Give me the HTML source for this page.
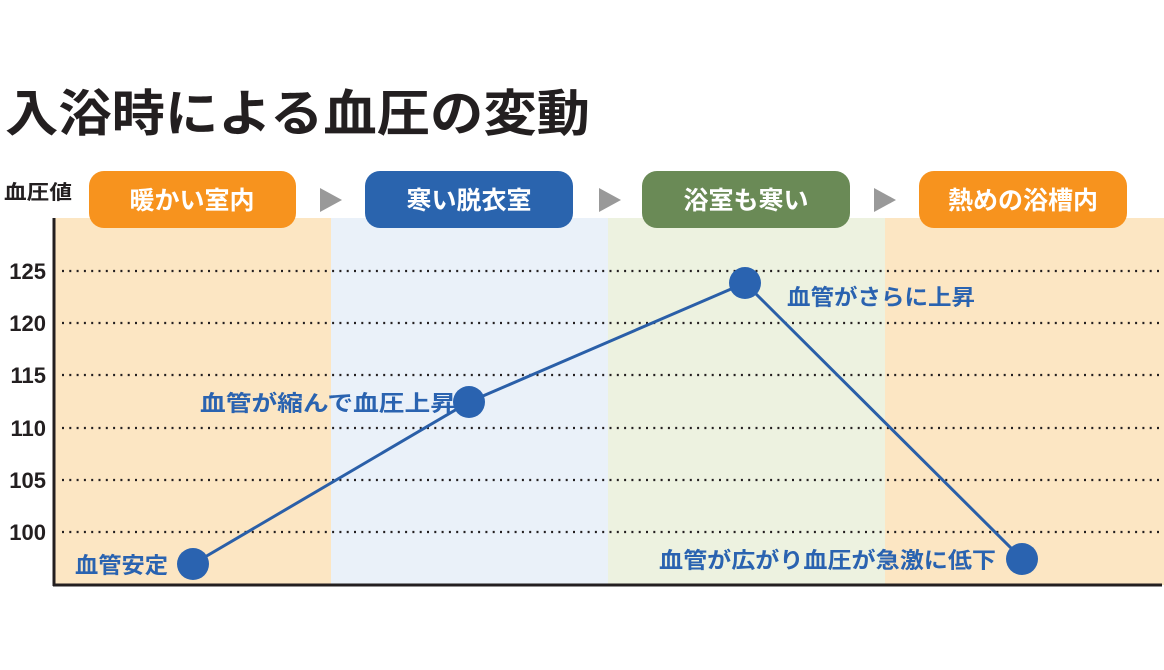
<!DOCTYPE html>
<html><head><meta charset="utf-8"><style>
html,body{margin:0;padding:0;background:#fff;}
svg{display:block;}
text{font-family:"Liberation Sans","Noto Sans CJK JP",sans-serif;font-weight:bold;}
</style></head><body>
<svg width="1164" height="670" viewBox="0 0 1164 670" xmlns="http://www.w3.org/2000/svg">
<rect width="1164" height="670" fill="#fff"/>
<text x="5" y="131" font-size="50" fill="#231f20" textLength="585" lengthAdjust="spacingAndGlyphs">入浴時による血圧の変動</text>
<text x="4" y="199" font-size="20" fill="#231f20" textLength="68" lengthAdjust="spacingAndGlyphs">血圧値</text>
<rect x="55" y="218" width="276" height="367" fill="#fce6c3"/>
<rect x="331" y="218" width="277" height="367" fill="#eaf1f9"/>
<rect x="608" y="218" width="277" height="367" fill="#edf2e0"/>
<rect x="885" y="218" width="279" height="367" fill="#fce6c3"/>
<rect x="89" y="171" width="207" height="57" rx="15" fill="#f7931e"/>
<rect x="365" y="171" width="208" height="57" rx="15" fill="#2a64ae"/>
<rect x="642" y="171" width="208" height="57" rx="15" fill="#6a8a56"/>
<rect x="919" y="171" width="208" height="57" rx="15" fill="#f7931e"/>
<g font-size="25" fill="#fff" text-anchor="middle">
<text x="192" y="209">暖かい室内</text>
<text x="469" y="209">寒い脱衣室</text>
<text x="746" y="209">浴室も寒い</text>
<text x="1023" y="209">熱めの浴槽内</text>
</g>
<g fill="#999">
<polygon points="320,188 320,212 342,200"/>
<polygon points="599,188 599,212 621,200"/>
<polygon points="874,188 874,212 896,200"/>
</g>
<g stroke="#231f20" stroke-width="2.2" stroke-dasharray="2 5.3">
<line x1="62" y1="271" x2="1162" y2="271"/>
<line x1="62" y1="323" x2="1162" y2="323"/>
<line x1="62" y1="375" x2="1162" y2="375"/>
<line x1="62" y1="428" x2="1162" y2="428"/>
<line x1="62" y1="480" x2="1162" y2="480"/>
<line x1="62" y1="532" x2="1162" y2="532"/>
</g>
<g font-size="22" fill="#231f20" text-anchor="end">
<text x="46" y="279">125</text>
<text x="46" y="331">120</text>
<text x="46" y="383">115</text>
<text x="46" y="436">110</text>
<text x="46" y="488">105</text>
<text x="46" y="540">100</text>
</g>
<line x1="54" y1="218" x2="54" y2="586" stroke="#231f20" stroke-width="3"/>
<line x1="53" y1="585" x2="1162" y2="585" stroke="#231f20" stroke-width="3"/>
<polyline points="193,564 469,402 745,283 1022,559" fill="none" stroke="#2a5fa8" stroke-width="3"/>
<g fill="#2a63b0">
<circle cx="193" cy="564" r="16"/>
<circle cx="469" cy="402" r="16"/>
<circle cx="745" cy="283" r="16"/>
<circle cx="1022" cy="559" r="16"/>
</g>
<g font-size="22" fill="#2a63b0" lengthAdjust="spacingAndGlyphs">
<text x="75" y="573" textLength="93" lengthAdjust="spacingAndGlyphs">血管安定</text>
<text x="200" y="411" textLength="256" lengthAdjust="spacingAndGlyphs">血管が縮んで血圧上昇</text>
<text x="787" y="305" textLength="188" lengthAdjust="spacingAndGlyphs">血管がさらに上昇</text>
<text x="659" y="568" textLength="337" lengthAdjust="spacingAndGlyphs">血管が広がり血圧が急激に低下</text>
</g>
</svg>
</body></html>
